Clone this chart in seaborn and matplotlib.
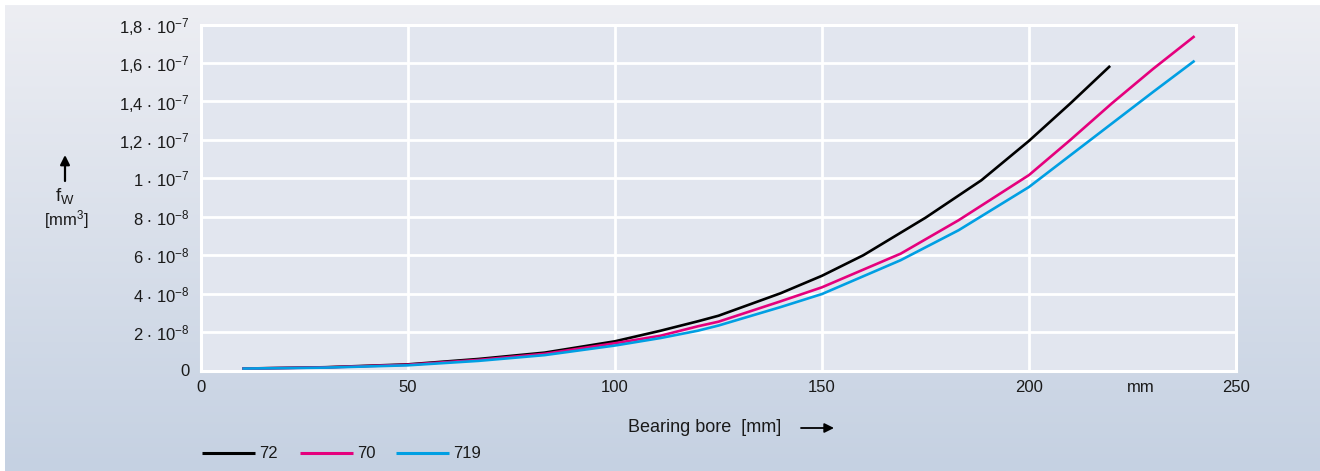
import numpy as np
import pandas as pd
import seaborn as sns
import matplotlib.pyplot as plt

# values (f_w in units of 1e-8 mm^3)
bore_72 = [10, 30, 50, 67, 83, 100, 111, 120, 125, 140, 150, 160, 175, 188.5, 200, 210, 219.6]
fw_72 = [0.10, 0.17, 0.32, 0.60, 0.93, 1.52, 2.07, 2.56, 2.85, 4.02, 4.93, 6.00, 7.95, 9.90, 11.95, 13.90, 15.85]

bore_70 = [10, 30, 50, 67, 83, 100, 111, 120, 125, 140, 150, 169, 183, 200, 210, 220, 230, 240]
fw_70 = [0.10, 0.16, 0.30, 0.55, 0.87, 1.42, 1.81, 2.30, 2.54, 3.60, 4.33, 6.08, 7.82, 10.17, 12.00, 13.90, 15.70, 17.40]

bore_719 = [10, 30, 50, 67, 83, 100, 111, 120, 125, 140, 150, 169, 183, 200, 210, 220, 230, 240]
fw_719 = [0.10, 0.15, 0.27, 0.50, 0.80, 1.30, 1.69, 2.07, 2.34, 3.30, 3.98, 5.74, 7.30, 9.55, 11.20, 12.85, 14.50, 16.12]

series_names = ['72', '70', '719']
series_colors = ['#000000', '#e5007d', '#009fe3']

y_ticks = [0, 2e-8, 4e-8, 6e-8, 8e-8, 1e-7, 1.2e-7, 1.4e-7, 1.6e-7, 1.8e-7]
y_ticklabels = ['0',
                r'2 $\cdot$ 10$^{-8}$', r'4 $\cdot$ 10$^{-8}$', r'6 $\cdot$ 10$^{-8}$', r'8 $\cdot$ 10$^{-8}$',
                r'1 $\cdot$ 10$^{-7}$', r'1,2 $\cdot$ 10$^{-7}$', r'1,4 $\cdot$ 10$^{-7}$',
                r'1,6 $\cdot$ 10$^{-7}$', r'1,8 $\cdot$ 10$^{-7}$']
x_ticks = [0, 50, 100, 150, 200, 250]

# build one long table for seaborn
frames = []
for name, b, f in zip(series_names, [bore_72, bore_70, bore_719], [fw_72, fw_70, fw_719]):
    frames.append(pd.DataFrame({'bore': b, 'fw': np.array(f) * 1e-8, 'series': name}))
df = pd.concat(frames, ignore_index=True)

sns.set_style('white')
plt.rcParams['font.family'] = ['Liberation Sans', 'DejaVu Sans']
plt.rcParams['mathtext.fontset'] = 'custom'
plt.rcParams['mathtext.rm'] = 'Liberation Sans'
plt.rcParams['mathtext.default'] = 'regular'
plt.rcParams['lines.solid_capstyle'] = 'butt'

W, H = 1320, 471
fig = plt.figure(figsize=(W / 100, H / 100), dpi=100, facecolor='white')

# gradient background (white strip at top and left)
bg = fig.add_axes([5 / W, 0, 1 - 5 / W, 1 - 5 / H])
top = np.array([237, 238, 243]) / 255
bot = np.array([197, 209, 226]) / 255
t = np.linspace(0, 1, 256)[:, None]
grad = top[None, :] * (1 - t) + bot[None, :] * t
bg.imshow(grad[:, None, :], aspect='auto', extent=[0, 1, 0, 1])
bg.set_axis_off()

ax = fig.add_axes([201 / W, 1 - 370.5 / H, (1236 - 201) / W, (370.5 - 24.6) / H])
ax.set_facecolor('#e2e6ef')

sns.lineplot(data=df, x='bore', y='fw', hue='series', hue_order=series_names,
             palette=dict(zip(series_names, series_colors)), linewidth=1.9,
             sort=False, estimator=None, legend=False, ax=ax)

ax.set_xlim(0, 250)
ax.set_ylim(0, 1.8e-7)
ax.set_xticks(x_ticks)
ax.set_xticklabels([str(v) for v in x_ticks], fontsize=12)
ax.set_yticks(y_ticks)
ax.set_yticklabels(y_ticklabels, fontsize=12)
ax.tick_params(axis='both', length=0, colors='#1a1a1a')
ax.tick_params(axis='y', pad=8)
ax.tick_params(axis='x', pad=7)
ax.grid(True, color='white', linewidth=2)
ax.set_axisbelow(True)
for s in ax.spines.values():
    s.set_color('white')
    s.set_linewidth(2.2)
ax.set_xlabel('')
ax.set_ylabel('')

# 'mm' unit among the x tick labels
ax.annotate('mm', xy=(227, 0), xycoords=('data', 'axes fraction'), xytext=(0, -7),
            textcoords='offset points', ha='center', va='top', fontsize=12, color='#1a1a1a')

# x axis title with arrow
fig.text(628 / W, 1 - 428 / H, 'Bearing bore  [mm]', ha='left', va='center', fontsize=13,
         color='#1a1a1a')
ax.annotate('', xy=(834 / W, 1 - 428 / H), xytext=(801 / W, 1 - 428 / H), xycoords='figure fraction',
            arrowprops=dict(arrowstyle='-|>', color='black', lw=1.3, mutation_scale=14, shrinkA=0, shrinkB=0))

# y axis title with arrow
ax.annotate('', xy=(65 / W, 1 - 155 / H), xytext=(65 / W, 1 - 181 / H), xycoords='figure fraction',
            arrowprops=dict(arrowstyle='-|>', color='black', lw=1.6, mutation_scale=14, shrinkA=0, shrinkB=0))
fig.text(65 / W, 1 - 196 / H, r'f$_W$', ha='center', va='center', fontsize=13.5, color='#1a1a1a')
fig.text(66 / W, 1 - 220 / H, r'[mm$^3$]', ha='center', va='center', fontsize=12, color='#1a1a1a')

# legend drawn by hand in figure coordinates
leg_x = [202, 300, 396]
for x0, name, col in zip(leg_x, series_names, series_colors):
    fig.add_artist(plt.Line2D([x0 / W, (x0 + 53) / W], [1 - 453 / H, 1 - 453 / H], color=col, lw=2.2))
    fig.text((x0 + 57) / W, 1 - 453 / H, name, ha='left', va='center', fontsize=12, color='#1a1a1a')

fig.savefig('out.png', dpi=100, facecolor='white')
